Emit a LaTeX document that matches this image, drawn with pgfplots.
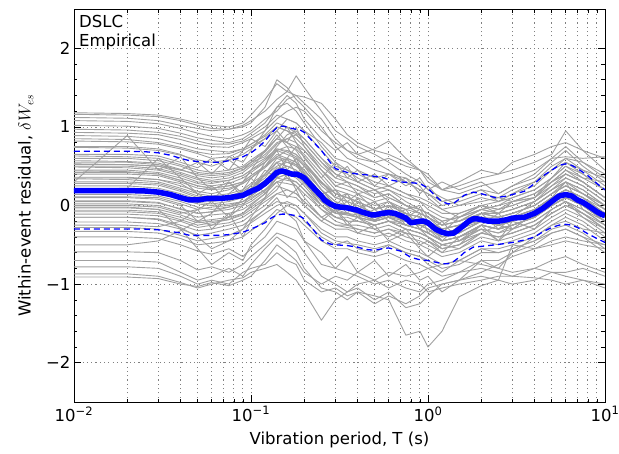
\documentclass[border=0pt]{standalone}
\usepackage{fontspec}
\setmainfont{DejaVu Sans}
\usepackage{pgfplots}
\usepackage{pgfplotstable}
\pgfplotsset{compat=1.18}

\definecolor{resgrey}{RGB}{160,160,160}
\definecolor{meanblue}{RGB}{0,0,255}

% Within-event residuals, one row per recording, one column per period
\pgfplotstableread{
id  c01 c02 c03 c04 c05 c06 c07 c08 c09 c10 c11 c12 c13 c14 c15 c16 c17 c18 c19 c20 c21 c22 c23 c24 c25 c26 c27 c28 c29 c30 c31 c32 c33
T   0.01 0.02 0.03 0.04 0.05 0.06 0.075 0.09 0.1 0.12 0.14 0.16 0.18 0.2 0.25 0.3 0.35 0.4 0.5 0.6 0.75 0.9 1 1.2 1.5 2 2.5 3 4 5 6 7.5 10
s01 1.18 1.17 1.15 1.10 1.05 1.02 1.00 1.05 1.15 1.35 1.55 1.45 1.40 1.30 1.10 0.85 0.70 0.60 0.55 0.45 0.30 0.20 0.15 0.05 0.10 0.20 0.15 0.25 0.35 0.55 0.70 0.50 0.30
s02 1.16 1.15 1.13 1.08 1.02 0.98 0.97 1.02 1.08 1.20 1.35 1.45 1.65 1.50 1.20 0.95 0.85 0.75 0.65 0.55 0.40 0.30 0.20 0.10 0.00 0.05 0.10 0.05 0.15 0.30 0.40 0.30 0.10
s03 1.12 1.11 1.08 1.02 0.98 0.95 0.97 1.00 1.05 1.25 1.60 1.50 1.35 1.25 1.00 0.75 0.60 0.55 0.45 0.40 0.35 0.25 0.10 -0.05 -0.15 0.00 -0.05 0.05 0.10 0.35 0.55 0.40 0.20
s04 1.08 1.07 1.04 0.98 0.92 0.88 0.85 0.90 0.95 1.10 1.20 1.35 1.40 1.38 1.30 1.10 0.90 0.80 0.70 0.65 0.55 0.45 0.30 0.20 0.15 0.25 0.30 0.35 0.45 0.60 0.62 0.60 0.62
s05 1.02 1.01 0.98 0.92 0.86 0.83 0.80 0.85 0.92 1.05 1.25 1.30 1.20 1.05 0.75 0.55 0.45 0.40 0.30 0.25 0.15 0.05 0.00 -0.10 -0.10 0.00 0.05 0.15 0.25 0.45 0.60 0.45 0.25
s06 0.97 0.96 0.93 0.88 0.82 0.78 0.78 0.82 0.88 1.00 1.15 1.10 1.05 0.95 0.70 0.50 0.45 0.35 0.25 0.20 0.10 0.05 -0.05 -0.15 -0.20 -0.10 -0.05 0.00 0.10 0.30 0.45 0.30 0.10
s07 0.93 0.92 0.90 0.84 0.78 0.75 0.74 0.80 0.85 0.95 1.10 1.20 1.25 1.20 0.95 0.80 0.70 0.65 0.55 0.60 0.50 0.45 0.40 0.20 0.25 0.35 0.40 0.45 0.55 0.65 0.95 0.70 0.45
s08 0.89 0.88 0.85 0.78 0.72 0.70 0.68 0.72 0.78 0.88 1.00 0.95 0.90 0.80 0.55 0.40 0.30 0.25 0.15 0.20 0.05 -0.05 -0.10 -0.25 -0.20 -0.05 -0.10 -0.05 0.05 0.20 0.35 0.25 0.05
s09 0.85 0.84 0.80 0.74 0.68 0.65 0.66 0.72 0.78 0.90 1.05 1.00 0.92 0.85 0.60 0.45 0.40 0.30 0.20 0.10 0.00 -0.10 -0.15 -0.30 -0.25 -0.10 -0.15 -0.10 0.00 0.15 0.30 0.20 0.00
s10 0.82 0.81 0.78 0.72 0.66 0.60 0.62 0.70 0.75 0.85 0.95 1.10 1.05 0.95 0.80 0.60 0.55 0.45 0.35 0.40 0.30 0.20 0.15 0.00 0.05 0.15 0.10 0.20 0.30 0.45 0.55 0.45 0.35
s11 0.74 0.73 0.70 0.64 0.58 0.55 0.58 0.65 0.72 0.85 1.00 0.95 0.85 0.75 0.45 0.30 0.25 0.20 0.10 0.15 0.00 -0.05 -0.10 -0.20 -0.15 0.00 -0.05 0.00 0.10 0.25 0.40 0.30 0.10
s12 0.63 0.62 0.60 0.52 0.45 0.42 0.45 0.50 0.58 0.70 0.85 0.80 0.75 0.65 0.40 0.20 0.15 0.10 0.00 0.05 -0.10 -0.15 -0.20 -0.30 -0.25 -0.15 -0.20 -0.15 -0.05 0.10 0.20 0.10 -0.10
s13 0.57 0.56 0.54 0.46 0.38 0.35 0.38 0.45 0.52 0.65 0.80 0.85 0.90 0.80 0.55 0.35 0.30 0.25 0.10 0.15 0.00 -0.10 -0.15 -0.25 -0.20 -0.05 -0.10 -0.05 0.05 0.20 0.30 0.20 0.00
s14 0.53 0.52 0.50 0.42 0.35 0.32 0.35 0.42 0.50 0.60 0.72 0.70 0.65 0.55 0.25 0.10 0.15 -0.05 0.05 -0.15 -0.15 -0.20 -0.25 -0.40 -0.35 -0.20 -0.25 -0.20 -0.10 0.05 0.15 0.05 -0.15
s15 0.49 0.48 0.45 0.38 0.30 0.28 0.32 0.38 0.45 0.55 0.70 0.75 0.72 0.62 0.35 0.15 0.10 0.05 -0.05 0.00 -0.10 -0.15 -0.20 -0.35 -0.30 -0.15 -0.20 -0.15 -0.05 0.10 0.20 0.10 -0.05
s16 0.44 0.43 0.40 0.32 0.25 0.22 0.25 0.30 0.38 0.50 0.65 0.60 0.55 0.45 0.20 0.05 -0.10 0.05 -0.20 -0.05 -0.20 -0.25 -0.30 -0.45 -0.40 -0.25 -0.30 -0.25 -0.15 0.00 0.10 0.00 -0.20
s17 0.40 0.40 0.38 0.30 0.22 0.20 0.22 0.28 0.35 0.48 0.62 0.70 0.65 0.55 0.30 0.10 0.05 0.00 -0.10 -0.05 -0.15 -0.20 -0.20 -0.30 -0.25 -0.10 -0.15 -0.10 0.00 0.15 0.25 0.15 0.00
s18 0.34 0.33 0.30 0.22 0.15 0.12 0.15 0.20 0.28 0.40 0.55 0.50 0.45 0.35 0.10 -0.05 -0.10 -0.15 -0.25 -0.20 -0.30 -0.35 -0.40 -0.55 -0.50 -0.35 -0.40 -0.35 -0.25 -0.10 0.00 -0.10 -0.30
s19 0.30 0.30 0.28 0.20 0.12 0.10 0.12 0.18 0.25 0.38 0.50 0.55 0.52 0.45 0.20 0.05 0.00 -0.05 -0.15 -0.10 -0.10 -0.30 -0.20 -0.45 -0.25 -0.20 -0.25 -0.20 -0.10 0.05 0.15 0.05 -0.15
s20 0.25 0.25 0.22 0.15 0.08 0.05 0.08 0.12 0.20 0.32 0.48 0.45 0.40 0.30 0.05 -0.10 -0.12 -0.15 -0.20 -0.15 -0.25 -0.30 -0.35 -0.45 -0.40 -0.25 -0.30 -0.25 -0.15 0.00 0.10 0.00 -0.20
s21 0.30 0.89 0.45 0.62 0.35 0.20 0.30 0.15 0.25 0.55 0.70 0.45 0.60 0.40 0.15 0.20 -0.05 0.10 -0.20 0.00 -0.25 -0.10 -0.35 -0.20 -0.45 -0.25 -0.10 -0.30 -0.10 0.10 0.30 -0.05 -0.20
s22 0.20 0.22 0.60 0.35 0.15 0.05 0.30 0.10 0.20 0.45 0.35 0.60 0.40 0.50 0.20 0.00 0.15 -0.05 0.05 -0.15 -0.05 -0.30 -0.20 -0.40 -0.30 -0.10 -0.30 -0.15 0.05 0.20 0.30 0.15 0.00
s23 0.17 0.17 0.15 0.08 0.02 0.00 0.02 0.05 0.12 0.25 0.40 0.45 0.40 0.30 0.05 -0.10 -0.12 -0.15 -0.20 -0.15 -0.25 -0.30 -0.35 -0.45 -0.40 -0.25 -0.30 -0.25 -0.15 0.00 0.10 0.00 -0.15
s24 0.14 0.14 0.12 0.05 -0.02 -0.05 -0.02 0.02 0.08 0.20 0.35 0.40 0.42 0.35 0.10 -0.05 0.05 -0.15 -0.05 -0.20 -0.20 -0.25 -0.25 -0.35 -0.30 -0.15 -0.20 -0.15 -0.05 0.10 0.20 0.10 -0.10
s25 0.11 0.11 0.10 0.02 -0.05 -0.02 0.00 0.05 0.10 0.20 0.30 0.28 0.25 0.15 -0.05 -0.15 -0.20 -0.20 -0.25 -0.20 -0.30 -0.35 -0.40 -0.50 -0.45 -0.30 -0.35 -0.30 -0.20 -0.05 0.05 -0.05 -0.25
s26 0.06 0.06 0.04 -0.05 -0.10 -0.08 -0.05 0.00 0.05 0.18 0.35 0.32 0.30 0.20 0.00 -0.10 -0.10 -0.15 -0.20 -0.15 -0.20 -0.25 -0.30 -0.40 -0.35 -0.20 -0.25 -0.20 -0.10 0.05 0.15 0.05 -0.10
s27 0.02 0.02 0.00 -0.08 -0.15 -0.12 -0.10 -0.05 0.02 0.15 0.30 0.35 0.30 0.20 -0.05 -0.20 -0.25 -0.25 -0.30 -0.25 -0.35 -0.40 -0.45 -0.55 -0.50 -0.25 -0.45 -0.20 -0.30 -0.05 0.05 -0.05 -0.25
s28 -0.02 -0.02 -0.05 -0.12 -0.20 -0.18 -0.15 -0.10 -0.02 0.10 0.25 0.20 0.15 0.05 -0.15 -0.25 -0.25 -0.30 -0.35 -0.30 -0.40 -0.45 -0.50 -0.60 -0.55 -0.40 -0.45 -0.40 -0.30 -0.15 -0.05 -0.15 -0.35
s29 -0.06 -0.06 -0.08 -0.15 -0.22 -0.20 -0.18 -0.12 -0.05 0.08 0.20 0.40 0.20 0.30 0.00 -0.15 -0.15 -0.20 -0.25 -0.20 -0.30 -0.35 -0.40 -0.50 -0.45 -0.30 -0.35 -0.25 -0.15 0.00 0.10 0.00 -0.20
s30 -0.11 -0.11 -0.13 -0.20 -0.28 -0.25 -0.22 -0.15 -0.08 0.05 0.15 0.12 0.10 0.00 -0.20 -0.30 -0.30 -0.35 -0.40 -0.35 -0.45 -0.50 -0.55 -0.65 -0.60 -0.45 -0.50 -0.45 -0.35 -0.20 -0.10 -0.20 -0.40
s31 -0.15 -0.15 -0.17 -0.25 -0.32 -0.30 -0.25 -0.20 -0.12 0.00 0.15 0.20 0.15 0.05 -0.15 -0.25 -0.28 -0.30 -0.35 -0.30 -0.35 -0.40 -0.45 -0.55 -0.50 -0.35 -0.40 -0.35 -0.25 -0.10 0.00 -0.10 -0.30
s32 -0.21 -0.21 -0.23 -0.30 -0.38 -0.35 -0.30 -0.25 -0.18 -0.05 0.05 0.02 0.00 -0.10 -0.30 -0.40 -0.40 -0.45 -0.50 -0.45 -0.55 -0.60 -0.65 -0.75 -0.70 -0.55 -0.55 -0.50 -0.40 -0.25 -0.15 -0.25 -0.45
s33 -0.28 -0.28 -0.30 -0.38 -0.45 -0.42 -0.38 -0.30 -0.22 -0.10 0.00 0.05 0.00 -0.10 -0.35 -0.45 -0.48 -0.50 -0.55 -0.50 -0.60 -0.65 -0.70 -0.80 -0.75 -0.60 -0.60 -0.55 -0.45 -0.30 -0.25 -0.35 -0.55
s34 -0.33 -0.33 -0.35 -0.42 -0.50 -0.48 -0.45 -0.40 -0.32 -0.20 -0.05 -0.10 -0.15 -0.25 -0.45 -0.55 -0.55 -0.60 -0.65 -0.60 -0.70 -0.75 -0.80 -0.90 -0.85 -0.70 -0.70 -0.60 -0.50 -0.35 -0.30 -0.40 -0.60
s35 -0.40 -0.40 -0.42 -0.50 -0.58 -0.62 -0.55 -0.65 -0.55 -0.40 -0.20 -0.25 -0.30 -0.45 -0.75 -0.80 -0.85 -0.90 -1.00 -0.95 -1.05 -1.10 -1.00 -0.95 -0.85 -0.80 -0.85 -0.90 -0.80 -0.70 -0.65 -0.75 -0.85
s36 -0.59 -0.59 -0.60 -0.70 -0.82 -0.78 -0.85 -0.75 -0.65 -0.50 -0.35 -0.40 -0.45 -0.60 -0.90 -1.00 -1.10 -1.05 -1.20 -1.10 -1.30 -1.25 -1.15 -1.00 -0.95 -0.90 -0.95 -1.00 -0.95 -0.85 -0.90 -0.95 -1.00
s37 -0.70 -0.70 -0.72 -0.85 -0.95 -0.90 -0.80 -0.90 -0.75 -0.55 -0.40 -0.50 -0.60 -0.80 -1.05 -1.10 -1.20 -1.10 -1.25 -1.15 -1.25 -1.15 -1.05 -1.00 -0.95 -0.85 -0.75 -0.65 -0.55 -0.45 -0.40 -0.45 -0.50
s38 -0.78 -0.78 -0.80 -0.90 -1.00 -0.95 -1.00 -0.85 -0.80 -0.75 -0.60 -0.70 -0.75 -0.95 -1.10 -1.05 -1.15 -1.10 -1.15 -1.20 -1.65 -1.60 -1.80 -1.60 -1.16 -1.02 -0.95 -0.50 -0.55 -0.50 -0.45 -0.50 -0.55
s39 -0.87 -0.87 -0.90 -0.98 -1.05 -1.00 -0.95 -0.92 -0.85 -0.80 -0.75 -0.85 -0.95 -1.10 -1.46 -1.20 -1.10 -1.00 -0.95 -1.05 -0.95 -1.00 -1.10 -1.05 -1.00 -0.95 -0.90 -0.90 -0.92 -0.95 -1.00 -0.95 -1.05
s40 -0.91 -0.91 -0.93 -1.00 -1.03 -0.98 -1.02 -0.95 -0.90 -0.70 -0.50 -0.60 -0.70 -0.85 -1.00 -0.90 -0.95 -0.85 -0.95 -0.85 -0.90 -0.85 -0.80 -0.75 -0.70 -0.75 -0.80 -0.85 -0.80 -0.85 -0.85 -0.80 -0.90
s41 0.36 0.36 0.33 0.25 0.18 0.15 0.20 0.28 0.35 0.50 0.70 0.65 0.60 0.50 0.30 0.15 0.10 0.05 -0.05 0.00 -0.05 -0.10 -0.15 -0.25 -0.20 -0.10 -0.10 -0.05 0.05 0.25 0.35 0.25 0.05
s42 0.45 0.45 0.42 0.35 0.28 0.25 0.28 0.35 0.42 0.55 0.75 0.90 0.95 0.85 0.60 0.40 0.35 0.30 0.20 0.25 0.15 0.10 0.05 -0.05 0.00 0.10 0.05 0.10 0.20 0.35 0.50 0.40 0.20
s43 0.55 0.55 0.52 0.45 0.40 0.38 0.40 0.48 0.55 0.68 0.85 0.80 0.70 0.55 0.30 0.10 0.05 0.00 -0.10 -0.05 -0.15 -0.20 -0.25 -0.35 -0.30 -0.20 -0.25 -0.20 -0.10 0.05 0.15 0.05 -0.15
s44 0.60 0.60 0.57 0.50 0.42 0.40 0.42 0.48 0.55 0.62 0.78 0.85 0.80 0.70 0.45 0.25 0.20 0.15 0.05 0.10 0.00 -0.05 -0.10 -0.20 -0.15 -0.05 0.00 0.05 0.15 0.30 0.40 0.30 0.10
s45 0.05 0.05 0.03 -0.04 -0.10 -0.08 -0.02 0.05 0.12 0.25 0.45 0.50 0.45 0.35 0.10 -0.05 -0.05 -0.10 -0.15 -0.10 -0.15 -0.20 -0.25 -0.35 -0.30 -0.15 -0.20 -0.15 -0.05 0.10 0.20 0.10 -0.10
s46 -0.08 -0.08 -0.10 -0.18 -0.25 -0.22 -0.18 -0.10 0.00 0.15 0.35 0.40 0.35 0.25 0.00 -0.15 -0.20 -0.20 -0.25 -0.20 -0.25 -0.30 -0.35 -0.45 -0.40 -0.25 -0.30 -0.25 -0.15 0.00 0.10 0.00 -0.20
s47 0.28 0.28 0.26 0.18 0.10 0.08 0.10 0.15 0.22 0.35 0.55 0.60 0.55 0.45 0.20 0.00 -0.05 -0.10 -0.15 -0.10 -0.20 -0.20 -0.25 -0.35 -0.30 -0.15 -0.15 -0.10 0.00 0.15 0.25 0.15 -0.05
s48 0.50 0.50 0.47 0.40 0.33 0.30 0.32 0.38 0.45 0.58 0.72 0.68 0.62 0.52 0.28 0.15 0.10 0.05 -0.05 0.00 -0.10 -0.15 -0.20 -0.30 -0.25 -0.10 -0.15 -0.10 0.00 0.15 0.25 0.15 -0.05
s49 0.42 0.42 0.40 0.32 0.25 0.22 0.25 0.30 0.38 0.50 0.62 0.58 0.52 0.42 0.15 0.00 -0.05 -0.10 -0.20 -0.15 -0.25 -0.30 -0.35 -0.45 -0.40 -0.25 -0.30 -0.25 -0.15 0.00 0.10 0.00 -0.20
s50 0.20 0.20 0.18 0.10 0.04 0.02 0.05 0.10 0.15 0.28 0.45 0.42 0.38 0.28 0.05 -0.08 -0.10 -0.12 -0.18 -0.12 -0.20 -0.25 -0.30 -0.40 -0.35 -0.20 -0.25 -0.20 -0.10 0.05 0.15 0.05 -0.15
s51 -0.50 -0.50 -0.45 -0.32 -0.20 -0.25 -0.15 0.00 0.15 0.40 0.60 0.55 0.50 0.40 0.15 0.00 -0.05 -0.10 -0.20 -0.15 -0.25 -0.30 -0.40 -0.50 -0.45 -0.35 -0.40 -0.35 -0.25 -0.10 0.00 -0.10 -0.30
s52 -0.03 -0.03 -0.05 -0.30 -0.55 -0.75 -0.60 -0.70 -0.50 -0.30 -0.10 0.00 -0.05 -0.20 -0.40 -0.50 -0.45 -0.55 -0.60 -0.50 -0.60 -0.65 -0.75 -0.85 -0.70 -0.55 -0.60 -0.55 -0.45 -0.35 -0.30 -0.40 -0.50
s53 0.52 0.52 0.50 0.45 0.55 0.40 0.62 0.55 0.70 0.95 1.25 1.40 1.30 1.10 0.85 0.70 0.80 0.65 0.72 0.82 0.60 0.45 0.35 0.20 0.30 0.45 0.40 0.55 0.65 0.75 0.80 0.70 0.60
s54 0.10 0.10 0.08 0.00 -0.20 -0.10 0.15 0.30 0.45 0.70 0.90 0.75 0.55 0.35 0.15 0.20 0.05 0.15 -0.05 0.05 -0.15 -0.05 -0.20 -0.35 -0.15 -0.05 0.00 0.10 0.20 0.35 0.50 0.35 0.20
s55 0.35 0.35 0.33 0.28 0.15 0.25 0.05 0.20 0.35 0.15 0.30 0.10 0.20 0.00 -0.20 -0.05 -0.25 -0.15 -0.30 -0.40 -0.30 -0.50 -0.45 -0.60 -0.40 -0.30 -0.45 -0.30 -0.20 -0.05 0.05 -0.10 -0.25
s56 -0.15 -0.15 -0.18 -0.28 -0.40 -0.55 -0.45 -0.30 -0.15 0.10 0.45 0.60 0.75 0.70 0.45 0.25 0.30 0.15 0.20 0.05 -0.05 0.00 -0.15 -0.25 -0.10 0.00 -0.10 0.05 0.10 0.30 0.45 0.35 0.30
s57 0.65 0.65 0.63 0.55 0.48 0.60 0.45 0.70 0.85 0.75 0.95 0.80 1.00 0.75 0.50 0.35 0.50 0.30 0.40 0.25 0.35 0.15 0.25 0.05 0.10 0.20 0.05 0.15 0.30 0.50 0.60 0.55 0.35
s58 -0.25 -0.25 -0.27 -0.20 -0.05 -0.30 -0.10 -0.40 -0.20 -0.05 0.10 -0.10 -0.20 -0.45 -0.60 -0.80 -0.65 -0.85 -0.70 -0.90 -0.75 -0.95 -0.90 -1.10 -0.95 -0.70 -0.80 -0.60 -0.40 -0.25 -0.20 -0.30 -0.35
s59 0.00 0.00 -0.02 -0.10 -0.05 0.05 -0.15 0.10 0.20 0.40 0.55 0.35 0.25 0.10 -0.15 -0.05 -0.20 -0.35 -0.25 -0.45 -0.35 -0.55 -0.65 -0.50 -0.55 -0.35 -0.25 -0.30 -0.10 0.10 0.05 -0.15 -0.30
s60 0.75 0.75 0.72 0.65 0.55 0.50 0.58 0.45 0.55 0.70 0.85 1.00 0.80 0.60 0.35 0.55 0.35 0.45 0.25 0.40 0.25 0.35 0.20 0.30 0.20 0.30 0.15 0.25 0.40 0.60 0.75 0.55 0.40
}\rawres
\pgfplotstabletranspose[colnames from=id]\resid\rawres

% Mean residual
\pgfplotstableread{
T m
0.01 0.19
0.015 0.19
0.02 0.19
0.025 0.185
0.03 0.17
0.035 0.14
0.04 0.10
0.045 0.07
0.05 0.07
0.055 0.085
0.06 0.09
0.067 0.09
0.075 0.10
0.085 0.12
0.09 0.13
0.1 0.18
0.11 0.22
0.12 0.28
0.13 0.35
0.14 0.42
0.15 0.44
0.16 0.42
0.17 0.40
0.18 0.40
0.19 0.38
0.2 0.35
0.22 0.25
0.24 0.16
0.25 0.12
0.26 0.07
0.28 0.02
0.3 -0.01
0.32 -0.02
0.35 -0.03
0.4 -0.06
0.42 -0.08
0.45 -0.10
0.48 -0.12
0.5 -0.12
0.55 -0.10
0.6 -0.09
0.65 -0.10
0.7 -0.13
0.75 -0.16
0.8 -0.22
0.85 -0.21
0.9 -0.20
0.95 -0.20
1.0 -0.22
1.1 -0.30
1.2 -0.34
1.3 -0.36
1.4 -0.35
1.5 -0.30
1.6 -0.25
1.7 -0.20
1.8 -0.17
1.9 -0.17
2.0 -0.18
2.2 -0.20
2.5 -0.20
2.8 -0.18
3.0 -0.16
3.5 -0.15
4.0 -0.10
4.5 -0.03
5.0 0.05
5.5 0.12
6.0 0.14
6.5 0.12
7.0 0.07
7.5 0.04
8.0 0.00
8.5 -0.04
9.0 -0.08
9.5 -0.11
10 -0.13
}\meanres

% Mean plus/minus one standard deviation
\pgfplotstableread{
T up lo
0.01 0.69 -0.30
0.02 0.69 -0.30
0.025 0.685 -0.30
0.03 0.67 -0.31
0.035 0.64 -0.33
0.04 0.60 -0.35
0.045 0.57 -0.38
0.05 0.56 -0.38
0.06 0.55 -0.38
0.067 0.55 -0.38
0.075 0.57 -0.37
0.085 0.60 -0.35
0.09 0.62 -0.34
0.1 0.67 -0.30
0.11 0.74 -0.26
0.12 0.82 -0.22
0.13 0.92 -0.16
0.14 0.99 -0.12
0.15 1.01 -0.11
0.16 1.00 -0.11
0.17 0.98 -0.12
0.19 0.96 -0.14
0.2 0.93 -0.17
0.22 0.83 -0.28
0.25 0.70 -0.44
0.28 0.55 -0.49
0.3 0.47 -0.50
0.35 0.42 -0.51
0.4 0.40 -0.53
0.45 0.39 -0.56
0.5 0.37 -0.57
0.55 0.36 -0.55
0.6 0.33 -0.54
0.7 0.30 -0.58
0.8 0.29 -0.66
0.9 0.28 -0.69
1.0 0.22 -0.70
1.1 0.12 -0.72
1.2 0.05 -0.74
1.3 0.02 -0.74
1.4 0.03 -0.71
1.5 0.08 -0.66
1.6 0.13 -0.60
1.8 0.17 -0.53
2.0 0.15 -0.52
2.4 0.10 -0.50
2.8 0.12 -0.48
3.0 0.14 -0.47
3.5 0.18 -0.44
4.0 0.28 -0.40
4.5 0.38 -0.33
5.0 0.45 -0.28
5.5 0.51 -0.25
6.0 0.53 -0.24
6.5 0.51 -0.25
7.0 0.47 -0.28
8.0 0.38 -0.36
9.0 0.28 -0.42
10 0.20 -0.47
}\sdres

\begin{document}
\begin{tikzpicture}[font=\fontsize{16.5}{19}\selectfont]
\path[use as bounding box] (-74pt,-51pt) rectangle (545pt,402pt);
\begin{axis}[
  scale only axis,
  width=531pt, height=393pt,
  xmode=log,
  xmin=0.01, xmax=10,
  ymin=-2.5, ymax=2.5,
  xtick={0.01,0.1,1,10},
  xticklabels={10\textsuperscript{−2},10\textsuperscript{−1},10\textsuperscript{0},10\textsuperscript{1}},
  ytick={-2,-1,0,1,2},
  yticklabels={−2,−1,0,1,2},
  minor y tick num=4,
  tick align=inside,
  major tick length=7pt,
  minor tick length=3.5pt,
  every tick/.style={black, line width=0.6pt},
  xmajorgrids, xminorgrids, ymajorgrids,
  major grid style={black!50, line width=0.8pt, dash pattern=on 1.1pt off 3.2pt},
  minor grid style={black!50, line width=0.8pt, dash pattern=on 1.1pt off 3.2pt},
  axis line style={black, line width=0.9pt},
  tick label style={font=\fontsize{16.5}{19}\selectfont},
  xticklabel style={yshift=-1pt},
  xlabel={Vibration period, T (s)},
  ylabel={Within-event residual, $\delta W_{es}$},
  xlabel style={at={(axis description cs:0.5,-0.068)}, anchor=north},
  ylabel style={at={(axis description cs:-0.07,0.5)}, anchor=south},
  clip=true,
]
\pgfplotsinvokeforeach{s01,s02,s03,s04,s05,s06,s07,s08,s09,s10,s11,s12,s13,s14,s15,s16,s17,s18,s19,s20,s21,s22,s23,s24,s25,s26,s27,s28,s29,s30,s31,s32,s33,s34,s35,s36,s37,s38,s39,s40,s41,s42,s43,s44,s45,s46,s47,s48,s49,s50,s51,s52,s53,s54,s55,s56,s57,s58,s59,s60}{
  \addplot[resgrey, line width=0.9pt, line join=round] table[x=T, y=#1] {\resid};
}
\addplot[meanblue, line width=1.3pt, dash pattern=on 6pt off 4pt] table[x=T, y=up] {\sdres};
\addplot[meanblue, line width=1.3pt, dash pattern=on 6pt off 4pt] table[x=T, y=lo] {\sdres};
\addplot[meanblue, line width=5.5pt, line join=round] table[x=T, y=m] {\meanres};
\node[anchor=north west, align=left, inner sep=0pt, font=\fontsize{16.5}{19}\selectfont] at (rel axis cs:0,1) [xshift=5pt, yshift=-6pt] {DSLC\\Empirical};
\node[anchor=center, inner sep=0pt] at (rel axis cs:0,1) [xshift=-46pt, yshift=-11.5pt] {(f)};
\end{axis}
\end{tikzpicture}
\end{document}
